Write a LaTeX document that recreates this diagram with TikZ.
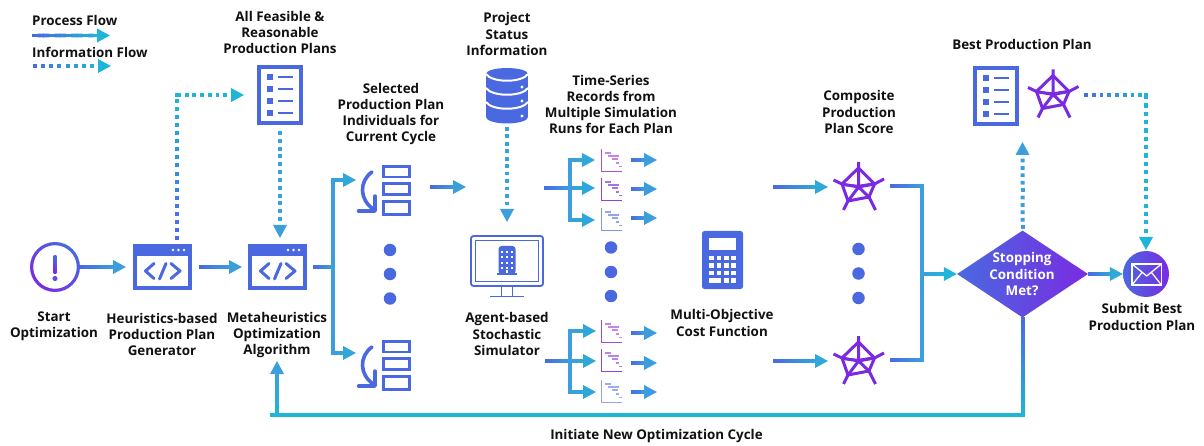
\documentclass[tikz,border=0pt]{standalone}
\usepackage{fontspec}
\setmainfont{Open Sans}
\usetikzlibrary{calc,arrows.meta,shapes.geometric}
\definecolor{fblue}{HTML}{4A69E0}
\definecolor{fmid}{HTML}{3C9EDD}
\definecolor{fcy}{HTML}{1FB5D6}
\definecolor{fpur}{HTML}{7A2BE2}
\definecolor{ink}{HTML}{111111}
\definecolor{gpink}{HTML}{B04FDC}
\definecolor{gviol}{HTML}{8A45E0}
\tikzset{
  x=1pt,y=-1pt,
  lbl/.style={font=\bfseries\fontsize{13.4}{16.2}\selectfont,align=center,text=ink,inner sep=0pt},
  slot/.style={inner sep=0pt,outer sep=0pt,minimum width=#1},
  seg/.style={line width=3.8pt},
  dotseg/.style={line width=4pt},
  headtip/.style={-{Triangle[length=13pt,width=13.5pt]},line width=2pt},
  radarline/.style={draw=fpur,line width=3pt},
  moredot/.style={circle,fill=fblue,minimum size=12.5pt,inner sep=0pt},
}
% solid gradient leg
\newcommand\gleg[4]{%
  \foreach \gi in {1,...,12}{%
    \pgfmathsetmacro\ga{(\gi-1)/12}\pgfmathsetmacro\gb{(\gi+0.12)/12}\pgfmathsetmacro\gp{100*(\gi-0.5)/12}%
    \draw[seg,draw=#4!\gp!#3] ($(#1)!\ga!(#2)$) -- ($(#1)!\gb!(#2)$);}}
% dotted gradient leg: #5 = number of dots
\newcommand\gdots[5]{%
  \foreach \gi in {1,...,#5}{%
    \pgfmathsetmacro\ga{(\gi-1)/#5}\pgfmathsetmacro\gb{(\gi-0.5)/#5}\pgfmathsetmacro\gp{100*(\gi-0.5)/#5}%
    \draw[dotseg,draw=#4!\gp!#3] ($(#1)!\ga!(#2)$) -- ($(#1)!\gb!(#2)$);}}
% arrow head on a connector end
\newcommand\ghead[3]{\draw[headtip,draw=#3,fill=#3] ($(#2)!12pt!(#1)$) -- (#2);}
% complete solid arrow
\newcommand\gflow[4]{%
  \gleg{#1}{$(#2)!11pt!(#1)$}{#3}{#4}\ghead{#1}{#2}{#4}}
% complete dotted arrow
\newcommand\gdotflow[5]{%
  \gdots{#1}{$(#2)!13pt!(#1)$}{#3}{#4}{#5}\ghead{#1}{#2}{#4}}
\newcommand\gcorner[2]{\fill[#2] ($(#1)+(-1.9,-1.9)$) rectangle ($(#1)+(1.9,1.9)$);}
\newcommand\dcorner[2]{\fill[#2] ($(#1)+(-2,-2)$) rectangle ($(#1)+(2,2)$);}
% icons
\newcommand\listicon[2]{\begin{scope}[shift={(#1,#2)}]
  \draw[fblue,line width=4pt] (2,2) rectangle (44,58);
  \foreach \ry in {12,24,36,48}{
    \fill[fblue] (10,\ry-3) rectangle (16,\ry+3);
    \fill[fblue] (21,\ry-1.3) rectangle (36,\ry+1.3);}
\end{scope}}
\newcommand\codeicon[2]{\begin{scope}[shift={(#1,#2)}]
  \fill[fblue] (0,0) rectangle (59,46);
  \fill[white] (4,12) rectangle (55,42);
  \foreach \dx in {40,45.5,51}{\fill[white] (\dx,6) circle (1.4);}
  \draw[fblue,line width=3pt,line cap=round,line join=round] (21,19.5) -- (12.5,27) -- (21,34.5);
  \draw[fblue,line width=3pt,line cap=round] (33,19.5) -- (26.5,35);
  \draw[fblue,line width=3pt,line cap=round,line join=round] (38,19.5) -- (47,27) -- (38,34.5);
\end{scope}}
\newcommand\planstack[2]{\begin{scope}[shift={(#1,#2)}]
  \draw[fblue,line width=2.6pt] (1.3,1.3) rectangle (27.7,12);
  \draw[fblue,line width=2.6pt] (1.3,18.5) rectangle (27.7,29.7);
  \draw[fblue,line width=2.6pt] (1.3,36.3) rectangle (27.7,49.7);
  \draw[fblue,line width=3.6pt,line cap=round] (-10,7) .. controls (-23,16) and (-23,35) .. (-8,44.5);
  \draw[fblue,line width=3.4pt,line cap=round,line join=round] (-23.5,46) -- (-7,46) -- (-7,31);
\end{scope}}
\newcommand\ganttchart[4]{\begin{scope}[shift={(#1,#2)}]
  \draw[#3,line width=1.3pt] (0.7,0) -- (0.7,22.5) -- (21,22.5);
  \foreach \sx/\ex/\sy in {3.5/9.5/3.7,7/18/7,11/17/10.3,15/18/14,18/21/17.5}{
    \draw[#4,line width=1.7pt] (\sx,\sy) -- (\ex,\sy);}
\end{scope}}
\newcommand\radaricon[2]{\begin{scope}[shift={(#1,#2)}]
  \draw[radarline] (0,-25) -- (0,0) (-25,-7) -- (-16.5,-3) -- (0,0) (25.5,-8) -- (16,-3) -- (0,0)
     (-15,23) -- (-10.5,14) -- (0,0) (17,23) -- (10.5,10) -- (0,0);
  \draw[radarline,line join=round] (0,-19) -- (16,-3) -- (10.5,10) -- (-10.5,14) -- (-16.5,-3) -- cycle;
  \draw[radarline,line width=2.4pt,line join=round] (-14,-2) -- (0,-1) -- (13,-3);
\end{scope}}
\begin{document}
\begin{tikzpicture}
\useasboundingbox (0,0) rectangle (1204,446);
% ---------- slots for icons (names for connectors)
\node[slot=50pt,minimum height=50pt,circle] (start) at (55,267) {};
\node[slot=73pt,minimum height=46pt] (heur) at (162.5,267) {};
\node[slot=71pt,minimum height=46pt] (meta) at (277.5,267) {};
\node[slot=46pt,minimum height=60pt] (plans) at (280,95) {};
\node[slot=42pt,minimum height=57pt] (db) at (507,96) {};
\node[slot=73pt,minimum height=62pt] (sim) at (507,266) {};
\node[slot=40pt,minimum height=58pt] (calc) at (722.5,260) {};
\node[diamond,aspect=1.5,minimum width=131pt,minimum height=87pt,inner sep=0pt,left color=fblue,right color=fpur] (stop) at (1022.5,274) {};
\node[circle,minimum size=46pt,inner sep=0pt,left color=fblue,right color=fpur] (send) at (1146,274) {};

% ---------- labels
\node[lbl,anchor=west] (lproc) at (32,20) {Process Flow};
\node[lbl,anchor=west] (linfo) at (32,52.5) {Information Flow};
\node[lbl] (tplans) at (280,32.5) {All Feasible \&\\Reasonable\\Production Plans};
\node[lbl] (tsel) at (391,114) {Selected\\Production Plan\\Individuals for\\Current Cycle};
\node[lbl] (tproj) at (507,34) {Project\\Status\\Information};
\node[lbl] (tts) at (611,104.5) {Time-Series\\Records from\\Multiple Simulation\\Runs for Each Plan};
\node[lbl] (tcomp) at (859,112) {Composite\\Production\\Plan Score};
\node[lbl] (tbest) at (1022,44) {Best Production Plan};
\node[lbl] (tstart) at (54,326.5) {Start\\Optimization};
\node[lbl] (theur) at (162,334.5) {Heuristics-based\\Production Plan\\Generator};
\node[lbl] (tmeta) at (277,335) {Metaheuristics\\Optimization\\Algorithm};
\node[lbl] (tsim) at (507,334) {Agent-based\\Stochastic\\Simulator};
\node[lbl] (tcost) at (722,323) {Multi-Objective\\Cost Function};
\node[lbl] (tsub) at (1142,317) {Submit Best\\Production Plan};
\node[lbl] (tnew) at (656.5,436) {Initiate New Optimization Cycle};
\node[lbl,text=white] (tstop) at (1022,274) {Stopping\\Condition\\Met?};

% ---------- icons
\shade[left color=fblue,right color=fpur,shading angle=-45,even odd rule] (start.center) circle (25) circle (21.8);
\shade[left color=fblue,right color=fpur,shading angle=-45] (53.6,256) rectangle (56.4,274);
\fill[fpur!40!fblue] (55,278.5) circle (2.6);
\codeicon{133}{244}
\codeicon{248}{244}
\listicon{257}{65}
\listicon{973}{66}
\planstack{382}{165}
\planstack{382}{340}
% database
\fill[fblue] (486,74) rectangle (528,117);
\fill[fblue] (507,117) ellipse (21 and 6.5);
\fill[fblue] (507,74) ellipse (21 and 6);
\foreach \ty in {74,88,102}{
  \draw[white,line width=2pt] (486,\ty) .. controls (492,\ty+9) and (522,\ty+9) .. (528,\ty);}
\foreach \ty in {87,101,116}{\fill[white] (522,\ty) circle (1.7);}
% monitor and building
\draw[fblue,line width=1.8pt,rounded corners=2.5pt] (471,236) rectangle (543,286);
\draw[fblue,line width=1.6pt] (475.5,240.5) rectangle (538.5,281.5);
\draw[fblue,line width=1.6pt] (501.5,286) -- (501.5,296.5) (512.5,286) -- (512.5,296.5);
\draw[fblue,line width=1.6pt] (490,296.5) -- (524,296.5);
\fill[fblue,rounded corners=3pt] (498.5,274) -- (498.5,246) -- (515.5,246) -- (515.5,274) -- cycle;
\fill[fblue] (497,273.5) rectangle (517,275.5);
\foreach \wy in {252.5,257.5,263,268.5}{\foreach \wx in {502,507,512}{\fill[white] (\wx-1,\wy-1) rectangle (\wx+1,\wy+1);}}
\fill[white] (506,270) rectangle (508,273.5);
% more-dots
\foreach \dy/\nm in {250/a,274/b,298.5/c}{\node[moredot] (sel\nm) at (390,\dy) {};}
\foreach \dy/\nm in {247.5/a,272/b,296/c}{\node[moredot] (ts\nm) at (611,\dy) {};}
\foreach \dy/\nm in {249/a,273.5/b,298/c}{\node[moredot] (sc\nm) at (858.5,\dy) {};}
% gantt charts
\ganttchart{601}{149}{gpink}{gpink!70!white}
\ganttchart{601}{178}{gviol}{gviol!75!white}
\ganttchart{601}{208}{fblue!70!white}{fblue!60!white}
\ganttchart{601}{320}{gpink!80!fpur}{gpink!70!white}
\ganttchart{601}{349}{gviol}{gviol!65!white}
\ganttchart{601}{380}{fblue!60!white}{fblue!55!white}
% calculator
\fill[fblue,rounded corners=2.5pt] (702,231) rectangle (743,289);
\fill[white] (709,238) rectangle (736,250);
\foreach \by in {258,265.5,273}{\foreach \bx in {711.5,719,726.3,733.5}{\fill[white] (\bx-2.3,\by-2.3) rectangle (\bx+2.3,\by+2.3);}}
\fill[white] (709,278) rectangle (721,282.6);
\foreach \bx in {726.3,733.5}{\fill[white] (\bx-2.3,278) rectangle (\bx+2.3,282.6);}
% radars
\radaricon{858.5}{187}
\radaricon{858.5}{361}
\radaricon{1053}{94.5}
% envelope
\draw[white,line width=1.5pt] (1132,264) rectangle (1161.5,285);
\draw[white,line width=1.3pt,line join=round] (1132,264) -- (1146.7,276) -- (1161.5,264);
\draw[white,line width=1.3pt] (1132,285) -- (1142,272.5) (1161.5,285) -- (1151.5,272.5);

% ---------- junction coordinates
\coordinate (lga) at (32,35.5); \coordinate (lgb) at (110,35.5);
\coordinate (lda) at (33,66); \coordinate (ldb) at (111,66);
\coordinate (hup) at (177,240); \coordinate (hcor) at (177,95); \coordinate (ptip) at (244,95);
\coordinate (pdn) at (280,131); \coordinate (mtip) at (280,238);
\coordinate (mjun) at (333,267); \coordinate (btop) at (333,180); \coordinate (bbot) at (333,353);
\coordinate (s1) at (356,180); \coordinate (s2) at (356,353);
\coordinate (p1a) at (430,187); \coordinate (p1b) at (466,187);
\coordinate (dbdn) at (507,127); \coordinate (simtip) at (507,222);
\coordinate (fa) at (544,188); \coordinate (fj) at (570,188);
\coordinate (ft1) at (570,160); \coordinate (ft3) at (570,220);
\coordinate (fh1) at (595,160); \coordinate (fh2) at (595,188); \coordinate (fh3) at (595,220);
\coordinate (ga) at (545,361); \coordinate (gj) at (570,361);
\coordinate (gt1) at (570,331); \coordinate (gt3) at (570,392);
\coordinate (gh1) at (596,331); \coordinate (gh2) at (596,361); \coordinate (gh3) at (596,392);
\coordinate (c1a) at (773,187); \coordinate (c1b) at (828,187);
\coordinate (c2a) at (773,361); \coordinate (c2b) at (828,361);
\coordinate (o1) at (890,186); \coordinate (o1c) at (922,186);
\coordinate (o2) at (890,360); \coordinate (o2c) at (922,360);
\coordinate (ojun) at (922,274);
\coordinate (upa) at (1022.5,229); \coordinate (upb) at (1022.5,142);
\coordinate (ba) at (1084,95); \coordinate (bc) at (1146,95); \coordinate (bt) at (1146,250);
\coordinate (fb1) at (1023,317); \coordinate (fb2) at (1023,415); \coordinate (fb3) at (277,415); \coordinate (fb4) at (277,361);

% ---------- legend
\gflow{lga}{lgb}{fblue}{fcy}
\gdotflow{lda}{ldb}{fblue}{fcy}{8}

% ---------- process flow
\gflow{start.east}{$(heur.west)+(0,0)$}{fblue}{fmid}
\gflow{heur.east}{$(meta.west)+(0,0)$}{fblue}{fmid}
\gleg{meta.east}{mjun}{fblue}{fmid}
\gleg{btop}{bbot}{fmid}{fmid}
\gcorner{btop}{fmid}\gcorner{bbot}{fmid}
\gflow{btop}{s1}{fmid}{fmid!60!fcy}
\gflow{bbot}{s2}{fmid}{fmid!60!fcy}
\gflow{p1a}{p1b}{fblue}{fmid}
% fans
\gleg{fa}{fj}{fblue}{fmid}
\gleg{ft1}{ft3}{fmid}{fmid}
\gcorner{ft1}{fmid}\gcorner{ft3}{fmid}
\gflow{ft1}{fh1}{fmid}{fmid!60!fcy}
\gflow{fj}{fh2}{fmid}{fmid!60!fcy}
\gflow{ft3}{fh3}{fmid}{fmid!60!fcy}
\gleg{ga}{gj}{fblue}{fmid}
\gleg{gt1}{gt3}{fmid}{fmid}
\gcorner{gt1}{fmid}\gcorner{gt3}{fmid}
\gflow{gt1}{gh1}{fmid}{fmid!60!fcy}
\gflow{gj}{gh2}{fmid}{fmid!60!fcy}
\gflow{gt3}{gh3}{fmid}{fmid!60!fcy}
% outputs of time-series records
\foreach \oy in {160,189,218,333,363,392}{
  \coordinate (oa) at (630.5,\oy); \coordinate (ob) at (657,\oy);
  \gflow{oa}{ob}{fblue}{fmid}}
% into scores
\gflow{c1a}{c1b}{fblue}{fmid!50!fcy}
\gflow{c2a}{c2b}{fblue}{fmid!50!fcy}
% scores into decision
\gleg{o1}{o1c}{fblue}{fmid}
\gleg{o2}{o2c}{fblue}{fmid}
\gleg{o1c}{o2c}{fmid}{fmid}
\gcorner{o1c}{fmid}\gcorner{o2c}{fmid}
\gflow{ojun}{stop.west}{fmid}{fcy}
\gflow{stop.east}{send.west}{fblue}{fmid!50!fcy}
% feedback
\gleg{fb1}{fb2}{fblue}{fcy}
\gleg{fb2}{fb3}{fcy}{fcy}
\gcorner{fb2}{fcy}\gcorner{fb3}{fcy}
\gflow{fb3}{fb4}{fcy}{fmid}

% ---------- information flow
\gdots{hup}{hcor}{fblue}{fcy}{18}
\dcorner{hcor}{fcy}
\gdotflow{hcor}{ptip}{fcy}{fcy}{7}
\gdotflow{pdn}{mtip}{fmid!70!fcy}{fmid}{12}
\gdotflow{dbdn}{simtip}{fmid!70!fcy}{fmid}{11}
\gdotflow{upa}{upb}{fmid}{fmid}{10}
\gdots{ba}{bc}{fblue}{fcy}{8}
\dcorner{bc}{fcy}
\gdotflow{bc}{bt}{fcy}{fcy}{17}
\end{tikzpicture}
\end{document}
